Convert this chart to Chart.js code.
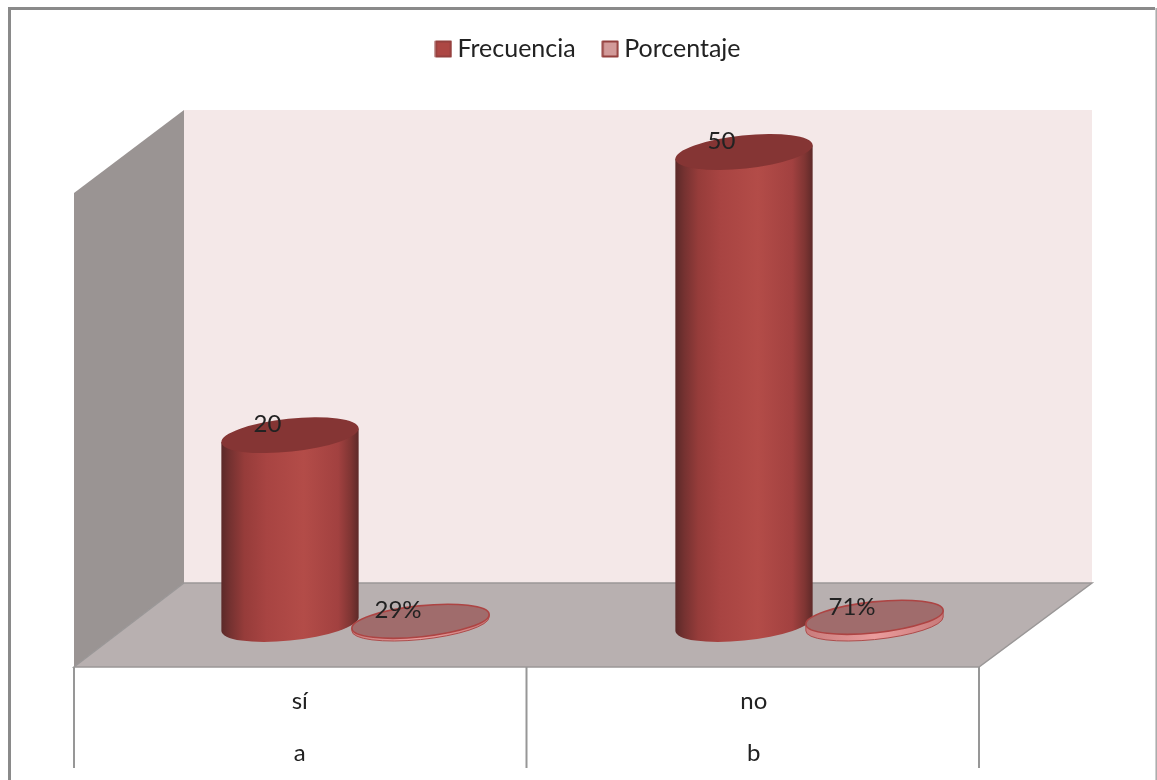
<!DOCTYPE html>
<html lang="es">
<head>
<meta charset="utf-8">
<title>Frecuencia y porcentaje</title>
<style>
  html, body { margin: 0; padding: 0; background: #fff; }
  canvas { display: block; }
</style>
<script src="https://cdn.jsdelivr.net/npm/chart.js@4/dist/chart.umd.js"></script>
</head>
<body>
<canvas id="grafico" width="1157" height="780"></canvas>
<script>
// Datos del gráfico
const categorias = [['sí', 'a'], ['no', 'b']];
const frecuencia = [20, 50];
const porcentaje = [0.29, 0.71];

const FUENTE = 'Lato, "Open Sans", sans-serif';
const TINTA = '#222222';

// Desplazamientos de la caja 3D respecto al plano medio de los datos
const FONDO = { izq: 55.75, der: 55.75, arriba: -42, abajo: -41 };
const FRENTE = { izq: -54.25, der: -57.25, arriba: 41, abajo: 43 };
const ELIPSE = { radioY: 16.5, giro: -6 * Math.PI / 180 };
const ETIQUETA = { dx: -22.5, dy: -10.5 };

// Muestra cuadrada de la leyenda
function muestra(relleno, borde) {
  const c = document.createElement('canvas');
  c.width = 18; c.height = 18;
  const g = c.getContext('2d');
  g.fillStyle = relleno;
  g.strokeStyle = borde;
  g.lineWidth = 2;
  g.lineJoin = 'round';
  g.beginPath();
  g.rect(1.5, 1.5, 15, 15);
  g.fill();
  g.stroke();
  return c;
}
const muestras = [muestra('#ad4744', '#94403e'), muestra('#d29a99', '#94403e')];

function elipse(ctx, x, y, rx, ry) {
  ctx.beginPath();
  ctx.ellipse(x, y, rx, ry, ELIPSE.giro, 0, Math.PI * 2);
}

// Silueta lateral: tangentes verticales de la elipse girada y arco inferior de la base
function trazarCuerpo(ctx, barra, rx, ry) {
  const g = ELIPSE.giro;
  const t = Math.atan2(-ry * Math.sin(g), rx * Math.cos(g));
  const dx = rx * Math.cos(t) * Math.cos(g) - ry * Math.sin(t) * Math.sin(g);
  const dy = rx * Math.cos(t) * Math.sin(g) + ry * Math.sin(t) * Math.cos(g);
  ctx.beginPath();
  ctx.ellipse(barra.x, barra.base, rx, ry, g, t, t + Math.PI, false);
  ctx.lineTo(barra.x - dx, barra.y - dy);
  ctx.lineTo(barra.x + dx, barra.y + dy);
  ctx.closePath();
}

function degradado(ctx, izq, der, paradas) {
  const g = ctx.createLinearGradient(izq, 0, der, 0);
  paradas.forEach(([p, c]) => g.addColorStop(p, c));
  return g;
}

// Cilindro: cuerpo con sombreado lateral y tapa elíptica
function cilindro(ctx, barra) {
  const rx = barra.width / 2, ry = ELIPSE.radioY;
  ctx.fillStyle = degradado(ctx, barra.x - rx, barra.x + rx, [
    [0, '#5a2928'], [0.07, '#763231'], [0.17, '#963c3a'], [0.33, '#a84442'],
    [0.6, '#b34c48'], [0.85, '#a24140'], [0.94, '#7f3533'], [1, '#5c2928']
  ]);
  trazarCuerpo(ctx, barra, rx, ry);
  ctx.fill();
  elipse(ctx, barra.x, barra.y, rx, ry);
  ctx.fillStyle = '#853534';
  ctx.fill();
}

// Disco: cilindro muy bajo con tapa translúcida
function disco(ctx, barra) {
  const rx = barra.width / 2, ry = ELIPSE.radioY - 1;
  ctx.fillStyle = degradado(ctx, barra.x - rx, barra.x + rx, [
    [0, '#c97c7c'], [0.5, '#ea9c9c'], [1, '#c87a7a']
  ]);
  trazarCuerpo(ctx, barra, rx, ry);
  ctx.fill();
  ctx.strokeStyle = '#ad4c4b';
  ctx.lineWidth = 1;
  ctx.stroke();
  elipse(ctx, barra.x, barra.y, rx, ry);
  ctx.fillStyle = '#a06c6c';
  ctx.fill();
  ctx.strokeStyle = '#ad4443';
  ctx.lineWidth = 1.6;
  ctx.stroke();
}

const escena3D = {
  id: 'escena3D',
  afterLayout(chart) {
    // Recoloca la leyenda en la franja superior del marco
    const leyenda = chart.legend;
    leyenda.top -= 80.5; leyenda.bottom -= 80.5;
    leyenda.left += 9; leyenda.right += 9;
  },
  beforeDatasetsDraw(chart) {
    const { ctx, chartArea: a } = chart;
    ctx.save();
    // Marco exterior, abierto por abajo
    ctx.strokeStyle = '#8a8a8a';
    ctx.lineWidth = 3;
    ctx.beginPath();
    ctx.moveTo(9.5, 780); ctx.lineTo(9.5, 8.5); ctx.lineTo(1155, 8.5);
    ctx.stroke();
    ctx.strokeStyle = '#a8a8a8';
    ctx.lineWidth = 1.5;
    ctx.beginPath();
    ctx.moveTo(1156.2, 8); ctx.lineTo(1156.2, 780);
    ctx.stroke();

    const fi = a.left + FONDO.izq, fd = a.right + FONDO.der;
    const ti = a.left + FRENTE.izq, td = a.right + FRENTE.der;
    // Pared del fondo
    ctx.fillStyle = '#f4e8e8';
    ctx.fillRect(fi, a.top + FONDO.arriba, fd - fi, a.bottom + FONDO.abajo - (a.top + FONDO.arriba));
    // Pared lateral
    ctx.fillStyle = '#9a9493';
    ctx.beginPath();
    ctx.moveTo(ti, a.top + FRENTE.arriba);
    ctx.lineTo(fi, a.top + FONDO.arriba);
    ctx.lineTo(fi, a.bottom + FONDO.abajo);
    ctx.lineTo(ti, a.bottom + FRENTE.abajo);
    ctx.closePath();
    ctx.fill();
    // Suelo
    ctx.fillStyle = '#b8b0b0';
    ctx.beginPath();
    ctx.moveTo(fi, a.bottom + FONDO.abajo);
    ctx.lineTo(fd, a.bottom + FONDO.abajo);
    ctx.lineTo(td, a.bottom + FRENTE.abajo);
    ctx.lineTo(ti, a.bottom + FRENTE.abajo);
    ctx.closePath();
    ctx.fill();
    ctx.strokeStyle = '#9a9797';
    ctx.lineWidth = 1.5;
    ctx.stroke();

    // Marcas de separación bajo el borde frontal
    ctx.strokeStyle = '#979797';
    ctx.lineWidth = 2;
    const yBorde = a.bottom + FRENTE.abajo;
    const n = categorias.length;
    for (let i = 0; i <= n; i++) {
      const x = ti + (td - ti) * i / n;
      ctx.beginPath();
      ctx.moveTo(x, yBorde);
      ctx.lineTo(x, yBorde + 101);
      ctx.stroke();
    }
    ctx.restore();
  },
  // El dibujo rectangular por defecto se sustituye por cilindros
  beforeDatasetDraw() { return false; },
  afterDatasetsDraw(chart) {
    const { ctx } = chart;
    ctx.save();
    const barrasF = chart.getDatasetMeta(0).data;
    const barrasP = chart.getDatasetMeta(1).data;
    barrasF.forEach(b => cilindro(ctx, b));
    barrasP.forEach(b => disco(ctx, b));
    ctx.font = '24px ' + FUENTE;
    ctx.fillStyle = TINTA;
    ctx.textAlign = 'center';
    ctx.textBaseline = 'middle';
    barrasF.forEach((b, i) => ctx.fillText(String(frecuencia[i]), b.x + ETIQUETA.dx, b.y + ETIQUETA.dy));
    barrasP.forEach((b, i) => ctx.fillText(Math.round(porcentaje[i] * 100) + '%', b.x + ETIQUETA.dx, b.y + ETIQUETA.dy));
    ctx.restore();
  }
};

new Chart(document.getElementById('grafico'), {
  type: 'bar',
  data: {
    labels: categorias,
    datasets: [
      { label: 'Frecuencia', data: frecuencia, backgroundColor: '#ad4744', borderColor: '#94403e' },
      { label: 'Porcentaje', data: porcentaje, backgroundColor: '#d29a99', borderColor: '#94403e' }
    ]
  },
  plugins: [escena3D],
  options: {
    responsive: false,
    animation: false,
    layout: { padding: { left: 128.25, right: 120.75, top: 84, bottom: 0 } },
    datasets: { bar: { categoryPercentage: 0.5749, barPercentage: 1.0575 } },
    scales: {
      x: {
        grid: { display: false },
        border: { display: false },
        afterFit(eje) { eje.height = 156; },
        ticks: {
          color: TINTA,
          padding: 43,
          labelOffset: -55.5,
          maxRotation: 0,
          autoSkip: false,
          font: { family: FUENTE, size: 24, lineHeight: 2.17 }
        }
      },
      y: { display: false, min: 0, max: 50 }
    },
    plugins: {
      tooltip: { enabled: false },
      legend: {
        position: 'top',
        labels: {
          color: TINTA,
          font: { family: FUENTE, size: 25 },
          padding: 33,
          usePointStyle: true,
          pointStyleWidth: 3,
          generateLabels(chart) {
            return Chart.defaults.plugins.legend.labels.generateLabels(chart)
              .map((item, i) => Object.assign(item, { pointStyle: muestras[i] }));
          }
        }
      }
    }
  }
});
</script>
</body>
</html>
